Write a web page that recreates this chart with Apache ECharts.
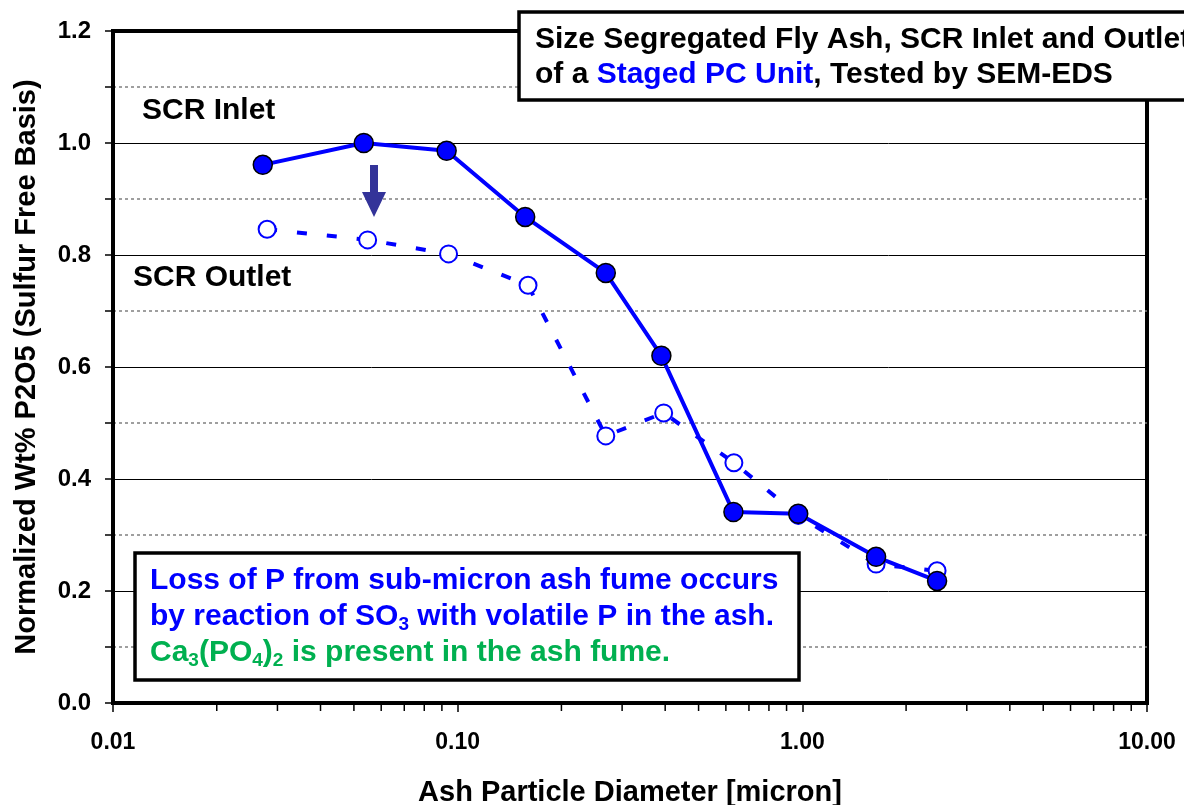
<!DOCTYPE html>
<html>
<head>
<meta charset="utf-8">
<script src="https://cdn.jsdelivr.net/npm/echarts@6/dist/echarts.min.js"></script>
<style>
html,body{margin:0;padding:0;background:#fff;}
#chart{width:1184px;height:805px;}
</style>
</head>
<body>
<div id="chart"></div>
<script>
// ---- data ----
var xInlet  = [0.0272, 0.0534, 0.0929, 0.157, 0.269, 0.390, 0.631, 0.973, 1.637, 2.46];
var yInlet  = [0.961, 1.000, 0.986, 0.868, 0.768, 0.620, 0.341, 0.338, 0.261, 0.218];
var xOutlet = [0.0280, 0.0548, 0.0941, 0.160, 0.269, 0.396, 0.633, 0.973, 1.637, 2.46];
var yOutlet = [0.846, 0.827, 0.802, 0.746, 0.477, 0.518, 0.429, 0.335, 0.248, 0.236];
var xMinorTicks = [0.02,0.03,0.04,0.05,0.06,0.07,0.08,0.09,0.2,0.3,0.4,0.5,0.6,0.7,0.8,0.9,2,3,4,5,6,7,8,9];
var xName = 'Ash Particle Diameter [micron]';
var yName = 'Normalized Wt% P2O5 (Sulfur Free Basis)';

var FONT = '"Liberation Sans", Arial, sans-serif';
function pairs(xs, ys){ return xs.map(function(x,i){ return [x, ys[i]]; }); }

var chart = echarts.init(document.getElementById('chart'), null, {renderer:'canvas'});
var option = {
  animation: false,
  backgroundColor: '#fff',
  grid: {left:113, right:37, top:31, bottom:102, show:true, borderColor:'#000', borderWidth:4,
    backgroundColor:'transparent', containLabel:false, outerBoundsMode:'none'},
  xAxis: {
    type: 'log', logBase: 10, min: 0.01, max: 10,
    name: xName, nameLocation: 'middle', nameGap: 75,
    nameTextStyle: {fontFamily: FONT, fontWeight: 'bold', fontSize: 29, color:'#000'},
    axisLine: {show:true, lineStyle:{color:'#000', width:4}},
    axisTick: {show:true, inside:false, length:9, lineStyle:{color:'#000', width:1.5}},
    axisLabel: {fontFamily: FONT, fontWeight:'bold', fontSize:23, color:'#000', margin:28,
      formatter: function(v){ return Number(v).toFixed(2); }},
    splitLine: {show:false},
    minorTick: {show:false}
  },
  yAxis: {
    type: 'value', min: 0, max: 1.2, interval: 0.2,
    name: yName, nameLocation: 'middle', nameGap: 72, nameRotate: 90,
    nameTextStyle: {fontFamily: FONT, fontWeight: 'bold', fontSize: 29, color:'#000'},
    axisLine: {show:true, lineStyle:{color:'#000', width:4}},
    axisTick: {show:true, inside:false, length:8, lineStyle:{color:'#000', width:1.5}},
    minorTick: {show:true, splitNumber:2, length:8, lineStyle:{color:'#000', width:1.5}},
    axisLabel: {fontFamily: FONT, fontWeight:'bold', fontSize:24, color:'#000', margin:22,
      formatter: function(v){ return Number(v).toFixed(1); }},
    splitLine: {show:true, lineStyle:{color:'#000', width:1}},
    minorSplitLine: {show:true, lineStyle:{color:'#808080', width:1.5, type:[3,3]}}
  },
  series: [
    {
      type: 'custom', name: 'xminor', silent: true, clip: false, z: 5,
      data: xMinorTicks.map(function(v){ return [v, 0]; }),
      renderItem: function(params, api){
        var p = api.coord([api.value(0), 0]);
        return {type:'line', shape:{x1:p[0], y1:p[1]+2, x2:p[0], y2:p[1]+8},
          style:{stroke:'#000', lineWidth:1.5}};
      }
    },
    {
      type: 'line', name: 'SCR Outlet', z: 3,
      data: pairs(xOutlet, yOutlet),
      symbol: 'circle', symbolSize: 17,
      lineStyle: {color:'#0000ff', width:4, type:[10,20]},
      itemStyle: {color:'#ffffff', borderColor:'#0000ff', borderWidth:2},
      emphasis: {disabled:true}
    },
    {
      type: 'line', name: 'SCR Inlet', z: 4,
      data: pairs(xInlet, yInlet),
      symbol: 'circle', symbolSize: 19,
      lineStyle: {color:'#0000ff', width:4},
      itemStyle: {color:'#0000ff', borderColor:'#000', borderWidth:1.5},
      emphasis: {disabled:true}
    }
  ],
  graphic: [
    {type:'text', left:142, top:96, z:20,
      style:{text:'SCR Inlet', fontFamily:FONT, fontWeight:'bold', fontSize:30, fill:'#000'}},
    {type:'text', left:133, top:263, z:20,
      style:{text:'SCR Outlet', fontFamily:FONT, fontWeight:'bold', fontSize:30, fill:'#000'}},
    // down arrow
    {type:'polygon', z:20,
      shape:{points:[[370,165],[378,165],[378,192],[386,192],[374,217],[362,192],[370,192]]},
      style:{fill:'#333399'}},
    // title box
    {type:'rect', z:30, shape:{x:519, y:12, width:700, height:88},
      style:{fill:'#fff', stroke:'#000', lineWidth:3.5}},
    {type:'text', z:31, left:535, top:22,
      style:{text:'Size Segregated Fly Ash, SCR Inlet and Outlet\nof a {b|Staged PC Unit}, Tested by SEM-EDS',
        fontFamily:FONT, fontWeight:'bold', fontSize:30, fill:'#000', lineHeight:35,
        rich:{b:{fill:'#0000ff', fontFamily:FONT, fontWeight:'bold', fontSize:30, lineHeight:35}}}},
    // annotation box
    {type:'rect', z:30, shape:{x:135, y:553, width:664, height:127},
      style:{fill:'#fff', stroke:'#000', lineWidth:3.5}},
    {type:'text', z:31, left:150, top:563,
      style:{text:'{a|Loss of P from sub-micron ash fume occurs}\n{a|by reaction of SO}{as|3}{a| with volatile P in the ash.}\n{g|Ca}{gs|3}{g|(PO}{gs|4}{g|)}{gs|2}{g| is present in the ash fume.}',
        fontFamily:FONT, fontWeight:'bold', fontSize:30, lineHeight:36,
        rich:{
          a:{fill:'#0000ff', fontFamily:FONT, fontWeight:'bold', fontSize:30, lineHeight:36},
          as:{fill:'#0000ff', fontFamily:FONT, fontWeight:'bold', fontSize:19, lineHeight:36, padding:[16,0,0,0]},
          g:{fill:'#00b050', fontFamily:FONT, fontWeight:'bold', fontSize:30, lineHeight:36},
          gs:{fill:'#00b050', fontFamily:FONT, fontWeight:'bold', fontSize:19, lineHeight:36, padding:[16,0,0,0]}
        }}}
  ]
};
chart.setOption(option);
</script>
</body>
</html>
